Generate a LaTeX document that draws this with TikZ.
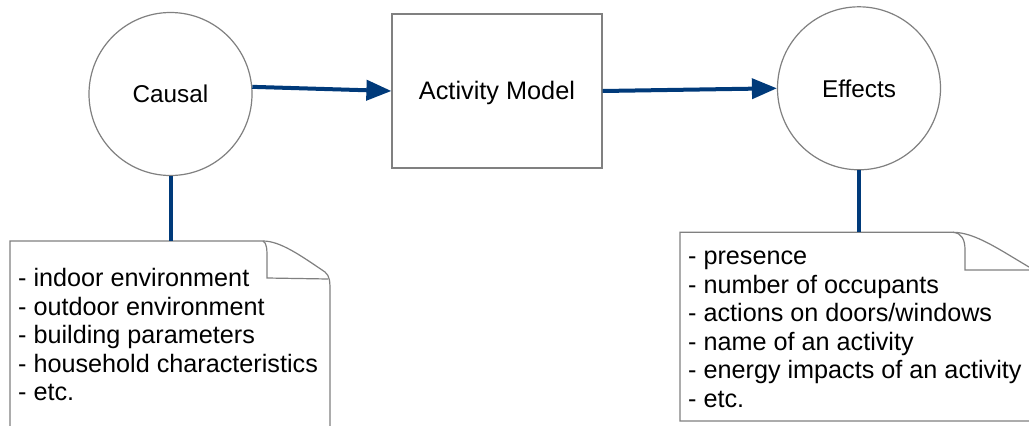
\documentclass[tikz,border=0pt]{standalone}
\usepackage{fontspec}
\setmainfont{Liberation Sans}
\usetikzlibrary{arrows.meta}
\definecolor{connblue}{RGB}{0,58,122}
\definecolor{edgegray}{RGB}{128,128,128}
\tikzset{
  shapeline/.style={draw=edgegray, line width=1.2pt},
  roundnode/.style={shapeline, circle, minimum size=163pt, inner sep=0pt, fill=white,
    font=\fontsize{24.3}{28.5}\selectfont, text height=17.6pt, text depth=0pt},
  boxnode/.style={shapeline, rectangle, minimum width=210pt, minimum height=154pt, inner sep=0pt, fill=white,
    font=\fontsize{25.3}{28.5}\selectfont, text height=17.6pt, text depth=0pt},
  conn/.style={draw=connblue, line width=4pt},
  flow/.style={conn, -{Triangle[length=25pt,width=20pt]}},
  notetext/.style={anchor=north west, inner sep=0pt, align=left,
    font=\fontsize{25.2}{28.5}\selectfont}
}
\begin{document}
\begin{tikzpicture}[x=1pt,y=-1pt]
\useasboundingbox[fill=white] (0,0) rectangle (1029,426);

% notes
\draw[shapeline] (10,426) -- (10,241) -- (263,241)
  .. controls (280,241) and (300,255) .. (325,272)
  .. controls (330,276) and (330,282) .. (330,292) -- (330,426);
\draw[shapeline] (263,241) .. controls (267,243) and (267,250) .. (267,258) -- (267,278) -- (328,279);
\coordinate (ltop) at (170,241);
\node[notetext] (ltext) at (18,266.4) {\strut- indoor environment\\- outdoor environment\\- building parameters\\- household characteristics\\- etc.};

\draw[shapeline] (1029,421) -- (680,421) -- (680,232.3) -- (953,232.3)
  .. controls (975,232.3) and (1000,250) .. (1029,267);
\draw[shapeline] (953,232.3) .. controls (962,233) and (965,240) .. (965,250) -- (965,270) -- (1029,270);
\coordinate (rtop) at (859,232.3);
\node[notetext] (rtext) at (688,244.7) {\strut- presence\\- number of occupants\\- actions on doors/windows\\- name of an activity\\- energy impacts of an activity\\- etc.};

% main nodes
\node[roundnode] (causal) at (170.5,94) {Causal};
\node[boxnode] (act) at (497,91) {Activity Model};
\node[roundnode] (effects) at (859,88.3) {Effects};

% connectors
\draw[flow] (causal.5) -- (act.west);
\draw[flow] (act.east) -- (effects.west);
\draw[conn] (causal.south) -- (causal.south |- ltop);
\draw[conn] (effects.south) -- (effects.south |- rtop);
\end{tikzpicture}
\end{document}
